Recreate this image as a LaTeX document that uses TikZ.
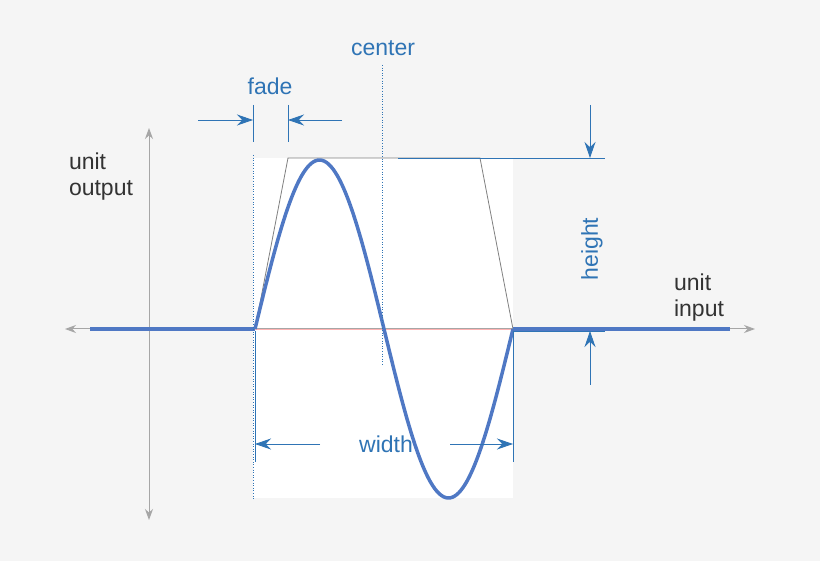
\documentclass[tikz,border=0pt]{standalone}
\usepackage{fontspec}
\setmainfont{Liberation Sans}
\usetikzlibrary{arrows.meta}
\definecolor{bg}{HTML}{F5F5F5}
\definecolor{lb}{HTML}{2F74B5}
\definecolor{sw}{HTML}{4F78C4}
\definecolor{tx}{HTML}{333333}
\begin{document}
\begin{tikzpicture}[x=1pt,y=-1pt,
  ax/.style={draw=gray!70,line width=1pt,-{Stealth[length=11pt,width=8pt]}},
  dim/.style={draw=lb,line width=0.8pt,-{Stealth[length=16pt,width=11pt]}},
  thin/.style={draw=lb,line width=0.6pt},
  lab/.style={text=lb,font=\fontsize{23}{25}\selectfont},
  dlab/.style={text=tx,font=\fontsize{23}{26}\selectfont,align=left}]
\fill[bg] (0,0) rectangle (820,561);
\fill[white] (253,158) rectangle (513,498);
% axes
\coordinate (o) at (149,329);
\coordinate (xl) at (65,329); \coordinate (xr) at (755,329);
\coordinate (yt) at (149,128); \coordinate (yb) at (149,520);
\draw[ax] (o) -- (xl); \draw[ax] (o) -- (xr);
\draw[ax] (o) -- (yt); \draw[ax] (o) -- (yb);
% trapezoid
\draw[gray,line width=0.8pt] (255,329) -- (288,158) -- (480,158) -- (513,329);
\draw[red!30,line width=0.5pt] (255,329) -- (513,329);
% blue signal
\draw[sw,line width=3.5pt] (90,329) -- (255,329);
\draw[sw,line width=3.5pt] (513,329) -- (730,329);
\draw[sw,line width=3.5pt,domain=0:360,samples=120,smooth] plot ({255+(\x/360)*258},{329-169*sin(\x)});
% guides
\draw[thin,dotted,line width=1pt] (253,155) -- (253,500);
\draw[thin] (253,105) -- (253,142);
\draw[thin] (288,105) -- (288,142);
\draw[thin,dotted,line width=1pt] (382,65) -- (382,365);
\draw[thin] (398,158) -- (605,158);
\draw[thin] (513,331) -- (605,331);
\draw[thin] (513,331) -- (513,462);
\draw[thin] (255,331) -- (255,462);
% dimension arrows
\coordinate (f1) at (198,120); \coordinate (f1e) at (253,120);
\coordinate (f2) at (342,120); \coordinate (f2e) at (288,120);
\draw[dim] (f1) -- (f1e); \draw[dim] (f2) -- (f2e);
\coordinate (h1) at (590,105); \coordinate (h1e) at (590,158);
\coordinate (h2) at (590,385); \coordinate (h2e) at (590,331);
\draw[dim] (h1) -- (h1e); \draw[dim] (h2) -- (h2e);
\coordinate (w1) at (320,444); \coordinate (w1e) at (255,444);
\coordinate (w2) at (450,444); \coordinate (w2e) at (513,444);
\draw[dim] (w1) -- (w1e); \draw[dim] (w2) -- (w2e);
% labels
\node[lab] (fade) at (270,86) {fade};
\node[lab] (center) at (383,48) {center};
\node[lab] (width) at (386,444) {width};
\node[lab,rotate=90] (height) at (592,249) {height};
\node[dlab] (uo) at (101,177) {unit\\output};
\node[dlab] (ui) at (699,298) {unit\\input};
\end{tikzpicture}
\end{document}
